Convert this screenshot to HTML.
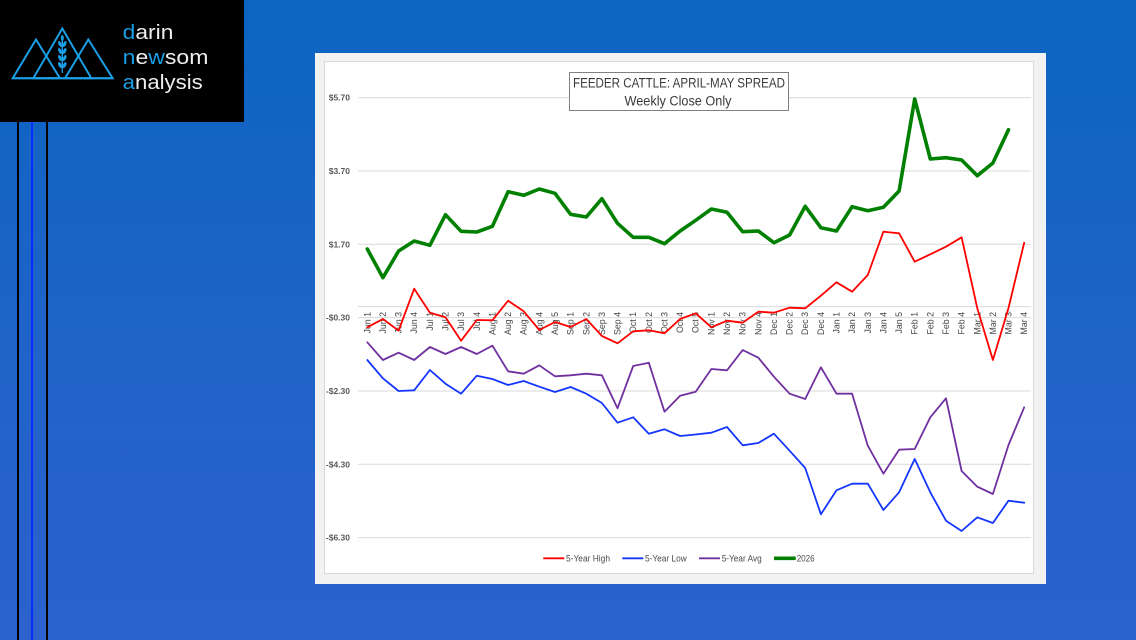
<!DOCTYPE html>
<html>
<head>
<meta charset="utf-8">
<style>
  html,body{margin:0;padding:0;}
  body{width:1136px;height:640px;overflow:hidden;background:linear-gradient(180deg,#0b65c1 0%,#1e63c8 50%,#2c62ce 100%);position:relative;font-family:"Liberation Sans",sans-serif;}
  svg{position:absolute;left:0;top:0;}
</style>
</head>
<body>
<svg width="1136" height="640" viewBox="0 0 1136 640" xmlns="http://www.w3.org/2000/svg">
  <!-- left vertical lines -->
  <rect x="17" y="120" width="2" height="520" fill="#000"/>
  <rect x="31" y="120" width="2" height="520" fill="#0a2cff"/>
  <rect x="46" y="120" width="2" height="520" fill="#000"/>

  <!-- logo box -->
  <rect x="0" y="0" width="244" height="122" fill="#000"/>
  <g fill="none" stroke="#1a9ee6" stroke-width="2" stroke-linejoin="miter">
    <polygon points="36,39.5 12.7,78.3 60,78.3"/>
    <polygon points="62.3,28.5 33.3,78.3 91.3,78.3"/>
    <polygon points="88.3,39.5 65,78.3 112.7,78.3"/>
    <line x1="12.7" y1="78.3" x2="112.7" y2="78.3"/>
  </g>
  <g fill="#1a9ee6">
    <rect x="61.6" y="37" width="1.4" height="36"/>
    <ellipse cx="60" cy="44" rx="1.6" ry="3.2" transform="rotate(-25 60 44)"/>
    <ellipse cx="64.6" cy="44" rx="1.6" ry="3.2" transform="rotate(25 64.6 44)"/>
    <ellipse cx="60" cy="51" rx="1.6" ry="3.2" transform="rotate(-25 60 51)"/>
    <ellipse cx="64.6" cy="51" rx="1.6" ry="3.2" transform="rotate(25 64.6 51)"/>
    <ellipse cx="60" cy="58" rx="1.6" ry="3.2" transform="rotate(-25 60 58)"/>
    <ellipse cx="64.6" cy="58" rx="1.6" ry="3.2" transform="rotate(25 64.6 58)"/>
    <ellipse cx="60" cy="65" rx="1.6" ry="3.2" transform="rotate(-25 60 65)"/>
    <ellipse cx="64.6" cy="65" rx="1.6" ry="3.2" transform="rotate(25 64.6 65)"/>
    <ellipse cx="62.3" cy="38" rx="1.5" ry="3"/>
  </g>
  <g font-family="Liberation Sans, sans-serif" font-size="20" fill="#eeeeee">
    <text x="122.7" y="39" textLength="50.7" lengthAdjust="spacingAndGlyphs"><tspan fill="#1a9ee6">d</tspan>arin</text>
    <text x="122.7" y="64" textLength="85.7" lengthAdjust="spacingAndGlyphs"><tspan fill="#1a9ee6">n</tspan>e<tspan fill="#1a9ee6">w</tspan>som</text>
    <text x="122.7" y="89" textLength="80" lengthAdjust="spacingAndGlyphs"><tspan fill="#1a9ee6">a</tspan>nalysis</text>
  </g>

  <!-- chart panel -->
  <rect x="315" y="53" width="731" height="531" fill="#f2f2f2"/>
  <rect x="324.5" y="61.5" width="709" height="512" fill="#ffffff" stroke="#d9d9d9" stroke-width="1"/>

  <!-- gridlines -->
  <g stroke="#d9d9d9" stroke-width="1">
    <line x1="358" y1="97.7" x2="1031" y2="97.7"/>
    <line x1="358" y1="171" x2="1031" y2="171"/>
    <line x1="358" y1="244.3" x2="1031" y2="244.3"/>
    <line x1="358" y1="317.6" x2="1031" y2="317.6"/>
    <line x1="358" y1="391" x2="1031" y2="391"/>
    <line x1="358" y1="464.3" x2="1031" y2="464.3"/>
    <line x1="358" y1="537.6" x2="1031" y2="537.6"/>
    <line x1="358" y1="306.6" x2="1031" y2="306.6"/>
  </g>

  <!-- y labels -->
  <g font-family="Liberation Sans, sans-serif" font-size="8.5" font-weight="bold" fill="#595959" text-anchor="end">
    <text x="350" y="100.7">$5.70</text>
    <text x="350" y="174">$3.70</text>
    <text x="350" y="247.3">$1.70</text>
    <text x="350" y="320.6">-$0.30</text>
    <text x="350" y="394">-$2.30</text>
    <text x="350" y="467.3">-$4.30</text>
    <text x="350" y="540.6">-$6.30</text>
  </g>

  <!-- x labels -->
  <g font-family="Liberation Sans, sans-serif" font-size="8.8" fill="#444444" text-anchor="end">
    <text transform="translate(370.3,312) rotate(-90)">Jun 1</text>
    <text transform="translate(385.9,312) rotate(-90)">Jun 2</text>
    <text transform="translate(401.6,312) rotate(-90)">Jun 3</text>
    <text transform="translate(417.2,312) rotate(-90)">Jun 4</text>
    <text transform="translate(432.9,312) rotate(-90)">Jul 1</text>
    <text transform="translate(448.5,312) rotate(-90)">Jul 2</text>
    <text transform="translate(464.1,312) rotate(-90)">Jul 3</text>
    <text transform="translate(479.8,312) rotate(-90)">Jul 4</text>
    <text transform="translate(495.4,312) rotate(-90)">Aug 1</text>
    <text transform="translate(511.1,312) rotate(-90)">Aug 2</text>
    <text transform="translate(526.7,312) rotate(-90)">Aug 3</text>
    <text transform="translate(542.3,312) rotate(-90)">Aug 4</text>
    <text transform="translate(558,312) rotate(-90)">Aug 5</text>
    <text transform="translate(573.6,312) rotate(-90)">Sep 1</text>
    <text transform="translate(589.3,312) rotate(-90)">Sep 2</text>
    <text transform="translate(604.9,312) rotate(-90)">Sep 3</text>
    <text transform="translate(620.5,312) rotate(-90)">Sep 4</text>
    <text transform="translate(636.2,312) rotate(-90)">Oct 1</text>
    <text transform="translate(651.8,312) rotate(-90)">Oct 2</text>
    <text transform="translate(667.5,312) rotate(-90)">Oct 3</text>
    <text transform="translate(683.1,312) rotate(-90)">Oct 4</text>
    <text transform="translate(698.7,312) rotate(-90)">Oct 5</text>
    <text transform="translate(714.4,312) rotate(-90)">Nov 1</text>
    <text transform="translate(730,312) rotate(-90)">Nov 2</text>
    <text transform="translate(745.7,312) rotate(-90)">Nov 3</text>
    <text transform="translate(761.3,312) rotate(-90)">Nov 4</text>
    <text transform="translate(776.9,312) rotate(-90)">Dec 1</text>
    <text transform="translate(792.6,312) rotate(-90)">Dec 2</text>
    <text transform="translate(808.2,312) rotate(-90)">Dec 3</text>
    <text transform="translate(823.9,312) rotate(-90)">Dec 4</text>
    <text transform="translate(839.5,312) rotate(-90)">Jan 1</text>
    <text transform="translate(855.1,312) rotate(-90)">Jan 2</text>
    <text transform="translate(870.8,312) rotate(-90)">Jan 3</text>
    <text transform="translate(886.4,312) rotate(-90)">Jan 4</text>
    <text transform="translate(902.1,312) rotate(-90)">Jan 5</text>
    <text transform="translate(917.7,312) rotate(-90)">Feb 1</text>
    <text transform="translate(933.3,312) rotate(-90)">Feb 2</text>
    <text transform="translate(949,312) rotate(-90)">Feb 3</text>
    <text transform="translate(964.6,312) rotate(-90)">Feb 4</text>
    <text transform="translate(980.3,312) rotate(-90)">Mar 1</text>
    <text transform="translate(995.9,312) rotate(-90)">Mar 2</text>
    <text transform="translate(1011.5,312) rotate(-90)">Mar 3</text>
    <text transform="translate(1027.2,312) rotate(-90)">Mar 4</text>
  </g>

  <!-- series -->
  <g fill="none" stroke-linejoin="round" stroke-linecap="round">
    <polyline stroke="#ff0000" stroke-width="1.8" points="367.3,327.3 382.9,319 398.6,330.7 414.2,288.7 429.9,312.7 445.5,317.3 461.1,340.7 476.8,320 492.4,320.3 508.1,300.7 523.7,311.3 539.3,330 555,322 570.6,327 586.3,319 601.9,336 617.5,343.3 633.2,331.3 648.8,330.3 664.5,333.3 680.1,319 695.7,313.3 711.4,327.3 727,320.7 742.7,322.7 758.3,311.7 773.9,312.7 789.6,307.7 805.2,308.3 820.9,295.7 836.5,282.3 852.1,291.7 867.8,275 883.4,231.7 899.1,233.3 914.7,261.7 930.3,254.3 946,246.7 961.6,237.3 977.3,308.3 992.9,360 1008.5,308 1024.2,242.7"/>
    <polyline stroke="#1436ff" stroke-width="1.8" points="367.3,360 382.9,378.3 398.6,391 414.2,390.3 429.9,370 445.5,383.7 461.1,393.7 476.8,375.7 492.4,379 508.1,385 523.7,381 539.3,386.7 555,392 570.6,387 586.3,393.7 601.9,403 617.5,422.7 633.2,417.3 648.8,433.7 664.5,429.3 680.1,436 695.7,434.5 711.4,432.7 727,427 742.7,445.3 758.3,443 773.9,433.7 789.6,450.7 805.2,468 820.9,514.3 836.5,490.3 852.1,483.7 867.8,483.7 883.4,510 899.1,492.3 914.7,459 930.3,492.3 946,520.7 961.6,531 977.3,517.3 992.9,523 1008.5,500.7 1024.2,502.7"/>
    <polyline stroke="#7030a0" stroke-width="1.8" points="367.3,342.3 382.9,360 398.6,352.7 414.2,360 429.9,347 445.5,354 461.1,347 476.8,354 492.4,345.7 508.1,371.3 523.7,373.7 539.3,365.3 555,376.3 570.6,375.3 586.3,373.7 601.9,375.3 617.5,408.3 633.2,366 648.8,362.7 664.5,411.7 680.1,395.7 695.7,391.7 711.4,369 727,370.3 742.7,350 758.3,357.7 773.9,376.7 789.6,393.7 805.2,399 820.9,367.3 836.5,393.7 852.1,393.7 867.8,445.7 883.4,473.7 899.1,449.7 914.7,449 930.3,417.3 946,398.3 961.6,471 977.3,486.7 992.9,494 1008.5,445 1024.2,407.3"/>
    <polyline stroke="#008000" stroke-width="3.6" points="367.3,249 382.9,277.7 398.6,251 414.2,241 429.9,245.3 445.5,214.7 461.1,231.3 476.8,232 492.4,226.3 508.1,191.7 523.7,195.3 539.3,189 555,193.3 570.6,214.3 586.3,217 601.9,198.7 617.5,223.3 633.2,237.3 648.8,237.3 664.5,243.7 680.1,231 695.7,220.3 711.4,209 727,212.3 742.7,231.7 758.3,231 773.9,242.7 789.6,235 805.2,206.3 820.9,227.7 836.5,231 852.1,206.7 867.8,210.7 883.4,207.3 899.1,191 914.7,99 930.3,159 946,157.7 961.6,160 977.3,175.7 992.9,163 1008.5,129.7"/>
  </g>

  <!-- title box -->
  <rect x="569.5" y="72.5" width="219" height="38" fill="#ffffff" stroke="#808080" stroke-width="1"/>
  <g font-family="Liberation Sans, sans-serif" font-size="13.5" fill="#3a3a3a" text-anchor="middle">
    <text x="679" y="87.5" textLength="212" lengthAdjust="spacingAndGlyphs">FEEDER CATTLE: APRIL-MAY SPREAD</text>
    <text x="678" y="105.5" textLength="107" lengthAdjust="spacingAndGlyphs">Weekly Close Only</text>
  </g>

  <!-- legend -->
  <g stroke-linecap="butt">
    <line x1="543.3" y1="558.3" x2="564.3" y2="558.3" stroke="#ff0000" stroke-width="1.8"/>
    <line x1="622.3" y1="558.3" x2="643.3" y2="558.3" stroke="#1436ff" stroke-width="1.8"/>
    <line x1="699" y1="558.3" x2="720" y2="558.3" stroke="#7030a0" stroke-width="1.8"/>
    <line x1="774" y1="558.3" x2="795.7" y2="558.3" stroke="#008000" stroke-width="3.6"/>
  </g>
  <g font-family="Liberation Sans, sans-serif" font-size="9" fill="#4a4a4a">
    <text x="566" y="561.5" textLength="44" lengthAdjust="spacingAndGlyphs">5-Year High</text>
    <text x="645" y="561.5" textLength="41.7" lengthAdjust="spacingAndGlyphs">5-Year Low</text>
    <text x="721.7" y="561.5" textLength="40" lengthAdjust="spacingAndGlyphs">5-Year Avg</text>
    <text x="796.7" y="561.5" textLength="18" lengthAdjust="spacingAndGlyphs">2026</text>
  </g>
</svg>
</body>
</html>
